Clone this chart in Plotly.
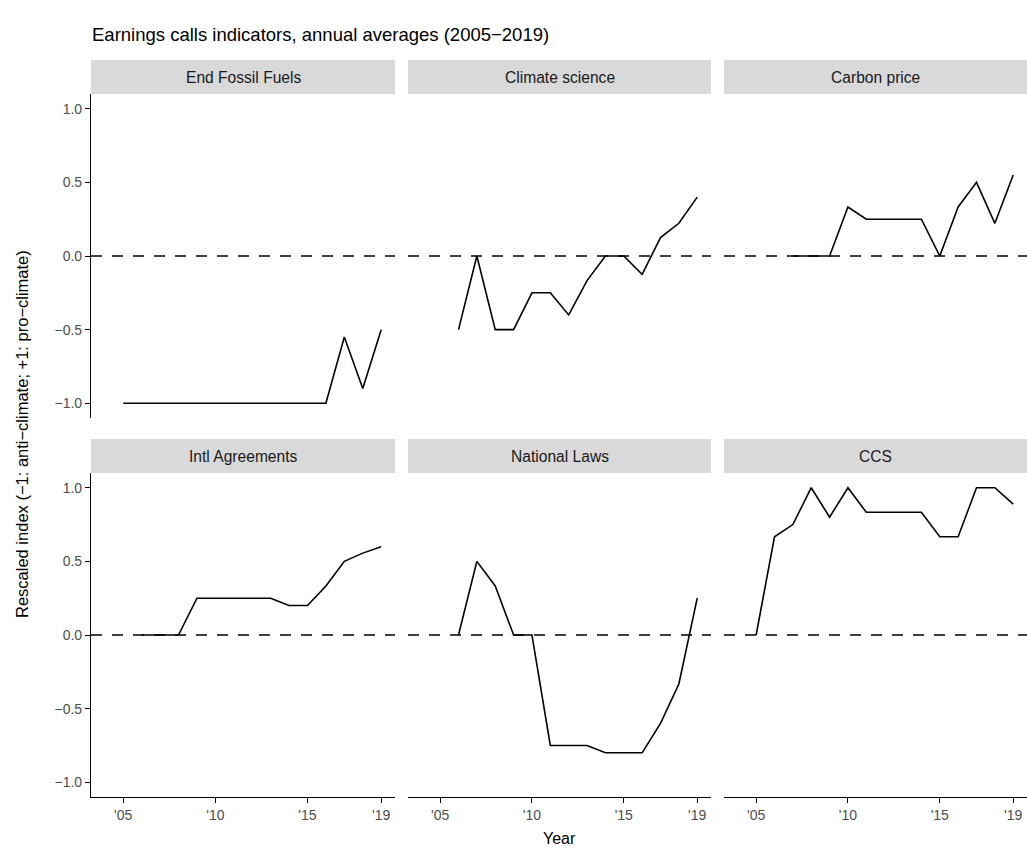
import plotly.graph_objects as go

# ---------------- data ----------------
years = list(range(2005, 2020))
end_fossil_fuels = [-1.0, -1.0, -1.0, -1.0, -1.0, -1.0, -1.0, -1.0, -1.0, -1.0, -1.0, -1.0, -0.55, -0.9, -0.5]
climate_science = [None, -0.5, 0.0, -0.5, -0.5, -0.25, -0.25, -0.4, -0.167, 0.0, 0.0, -0.125, 0.125, 0.222, 0.4]
carbon_price = [None, None, 0.0, 0.0, 0.0, 0.333, 0.25, 0.25, 0.25, 0.25, 0.0, 0.333, 0.5, 0.222, 0.55]
intl_agreements = [None, 0.0, 0.0, 0.0, 0.25, 0.25, 0.25, 0.25, 0.25, 0.2, 0.2, 0.333, 0.5, 0.556, 0.6]
national_laws = [None, 0.0, 0.5, 0.333, 0.0, 0.0, -0.75, -0.75, -0.75, -0.8, -0.8, -0.8, -0.6, -0.333, 0.25]
ccs = [0.0, 0.667, 0.75, 1.0, 0.8, 1.0, 0.833, 0.833, 0.833, 0.833, 0.667, 0.667, 1.0, 1.0, 0.889]

panel_titles = ["End Fossil Fuels", "Climate science", "Carbon price",
                "Intl Agreements", "National Laws", "CCS"]
panel_series = [end_fossil_fuels, climate_science, carbon_price,
                intl_agreements, national_laws, ccs]

x_tick_vals = [2005, 2010, 2015, 2019]
x_tick_text = ["'05", "'10", "'15", "'19"]
y_tick_vals = [-1.0, -0.5, 0.0, 0.5, 1.0]
y_tick_text = ["\u22121.0", "\u22120.5", "0.0", "0.5", "1.0"]

title_text = "Earnings calls indicators, annual averages (2005\u22122019)"
x_title = "Year"
y_title = "Rescaled index (\u22121: anti\u2212climate; +1: pro\u2212climate)"

# ---------------- layout geometry (pixels) ----------------
W, H = 1027, 851
FONT = "Liberation Sans, Arial, Helvetica, sans-serif"
col_px = [(91, 395), (408, 711), (724, 1027)]
row_px = [(94, 418), (473, 797)]
strip_px = [(60, 94), (439, 473)]

X_RANGE = [2003.25, 2019.75]
Y_RANGE = [-1.1, 1.1]

fig = go.Figure()
shapes = []
annotations = []
layout_axes = {}

for i, (name, vals) in enumerate(zip(panel_titles, panel_series)):
    r, c = divmod(i, 3)
    n = i + 1
    xs = "" if n == 1 else str(n)
    fig.add_trace(go.Scatter(
        x=years, y=vals, mode="lines",
        line=dict(color="black", width=1.6),
        xaxis="x" + xs, yaxis="y" + xs, showlegend=False,
        hoverinfo="x+y"))

    x0, x1 = col_px[c]
    y0, y1 = row_px[r]
    bottom = (r == 1)
    left = (c == 0)

    xaxis = dict(
        domain=[x0 / W, x1 / W], range=X_RANGE, anchor="y" + xs,
        showgrid=False, zeroline=False,
        showline=bottom, linecolor="black", linewidth=1.2,
        ticks="outside" if bottom else "", ticklen=5, tickwidth=1.2, tickcolor="black",
        tickmode="array", tickvals=x_tick_vals, ticktext=x_tick_text,
        showticklabels=bottom,
        tickfont=dict(family=FONT, size=14, color="#4D4D4D"),
    )
    yaxis = dict(
        domain=[1 - y1 / H, 1 - y0 / H], range=Y_RANGE, anchor="x" + xs,
        showgrid=False, zeroline=False,
        showline=left, linecolor="black", linewidth=1.2,
        ticks="outside" if left else "", ticklen=5, tickwidth=1.2, tickcolor="black",
        tickmode="array", tickvals=y_tick_vals, ticktext=y_tick_text,
        showticklabels=left,
        tickfont=dict(family=FONT, size=14, color="#4D4D4D"),
    )
    layout_axes["xaxis" + xs] = xaxis
    layout_axes["yaxis" + xs] = yaxis

    # dashed reference line at zero
    shapes.append(dict(
        type="line", xref=f"x{xs} domain", yref="y" + xs,
        x0=0, x1=1, y0=0, y1=0,
        line=dict(color="black", width=1.4, dash="11px,10px"), layer="below"))

    # strip
    s0, s1 = strip_px[r]
    shapes.append(dict(
        type="rect", xref="paper", yref="paper",
        x0=x0 / W, x1=x1 / W, y0=1 - s1 / H, y1=1 - s0 / H,
        fillcolor="#D9D9D9", line=dict(width=0), layer="below"))
    annotations.append(dict(
        text=name, xref="paper", yref="paper",
        x=(x0 + x1) / 2 / W, y=1 - ((s0 + s1) / 2 + 0.5) / H,
        xanchor="center", yanchor="middle", showarrow=False,
        font=dict(family=FONT, size=15.6, color="#1A1A1A")))

# titles
annotations.append(dict(
    text=title_text, xref="paper", yref="paper",
    x=90 / W, y=1 - 35 / H, xanchor="left", yanchor="middle", showarrow=False,
    font=dict(family=FONT, size=18.5, color="black")))
annotations.append(dict(
    text=x_title, xref="paper", yref="paper",
    x=559.5 / W, y=1 - 838 / H, xanchor="center", yanchor="middle", showarrow=False,
    font=dict(family=FONT, size=16, color="black")))
annotations.append(dict(
    text=y_title, xref="paper", yref="paper", textangle=-90,
    x=22 / W, y=1 - 434 / H, xanchor="center", yanchor="middle", showarrow=False,
    font=dict(family=FONT, size=16.5, color="black")))

fig.update_layout(
    width=W, height=H,
    margin=dict(l=0, r=0, t=0, b=0),
    paper_bgcolor="white", plot_bgcolor="white",
    shapes=shapes, annotations=annotations,
    showlegend=False,
    **layout_axes,
)

fig.write_html("out.html")
